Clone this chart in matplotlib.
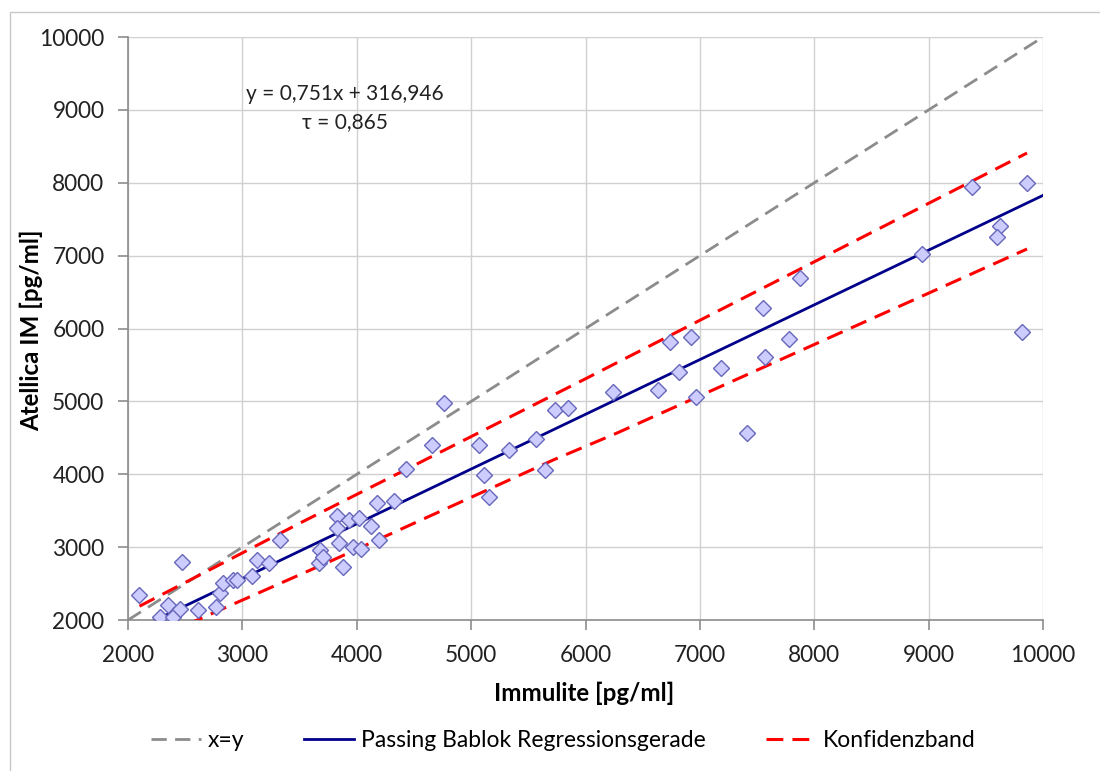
import matplotlib
matplotlib.use("Agg")
import matplotlib.pyplot as plt
from matplotlib.lines import Line2D
from matplotlib.patches import Rectangle

plt.rcParams['font.family'] = ['Lato', 'DejaVu Sans']

# data
immulite = [2096, 2280, 2350, 2393, 2455, 2472, 2612, 2769, 2804, 2831, 2918, 2953,
            3084, 3128, 3233, 3329, 3670, 3679, 3705, 3827, 3827, 3845, 3880, 3932,
            3967, 4020, 4037, 4125, 4177, 4195, 4326,
            4763, 6240, 5733, 5847, 4658, 5069, 4431, 5331, 5567, 5112, 5156, 5646,
            7875, 7552, 6739, 6922, 7779, 7569, 7185, 6817, 6634, 6966, 7412,
            9379, 9860, 9624, 9598, 8942, 9816]
atellica = [2343, 2041, 2206, 2041, 2151, 2796, 2137, 2178, 2370, 2508, 2549, 2549,
            2604, 2823, 2782, 3098, 2782, 2961, 2864, 3427, 3262, 3057, 2727, 3372,
            3002, 3400, 2974, 3290, 3605, 3098, 3633,
            4978, 5129, 4882, 4909, 4401, 4401, 4072, 4333, 4484, 3990, 3688, 4058,
            6693, 6281, 5815, 5883, 5856, 5609, 5458, 5403, 5156, 5060, 4566,
            7942, 7997, 7407, 7256, 7022, 5952]

slope = 0.751
intercept = 316.946
tau = "0,865"

identity_x = [2000, 10000]
reg_x = [2000, 10000]
upper_x = [2100, 3504, 5978, 9860]
upper_y = [2190, 3331, 5293, 8408]
lower_x = [2100, 3792, 5716, 6275, 9860]
lower_y = [1650, 2823, 4195, 4566, 7091]

x_ticks = [2000, 3000, 4000, 5000, 6000, 7000, 8000, 9000, 10000]
y_ticks = [2000, 3000, 4000, 5000, 6000, 7000, 8000, 9000, 10000]

fig = plt.figure(figsize=(11, 7.71), dpi=100)
ax = fig.add_axes([0.1164, 0.1958, 0.8318, 0.7562])

# chart frame
fig.patches.append(Rectangle((10 / 1100, -0.1), 1.2, 1 - 12 / 771 + 0.1,
                             transform=fig.transFigure, fill=False,
                             edgecolor='#c8c8c8', linewidth=1.0, zorder=0))

ax.set_xlim(2000, 10000)
ax.set_ylim(2000, 10000)
ax.set_xticks(x_ticks)
ax.set_yticks(y_ticks)
ax.grid(True, color='#d0d0d0', linewidth=1.0, zorder=0)
ax.set_axisbelow(True)
for s in ['top', 'right']:
    ax.spines[s].set_visible(False)
for s in ['left', 'bottom']:
    ax.spines[s].set_color('#8c8c8c')
    ax.spines[s].set_linewidth(1.2)
ax.tick_params(direction='out', length=7, width=1.2, color='#8c8c8c',
               labelsize=16.3, labelcolor='#222222')
ax.tick_params(axis='y', pad=10)
ax.tick_params(axis='x', pad=11)

ax.plot(identity_x, identity_x, color='#8c8c8c', linestyle=(0, (5.5, 3)),
        linewidth=2, zorder=2)
ax.plot(reg_x, [slope * v + intercept for v in reg_x], color='#00008b',
        linewidth=2, zorder=3)
ax.plot(upper_x, upper_y, color='#ff0000', linestyle=(0, (5.5, 3)),
        linewidth=2.2, zorder=3)
ax.plot(lower_x, lower_y, color='#ff0000', linestyle=(0, (5.5, 3)),
        linewidth=2.2, zorder=3)
ax.plot(immulite, atellica, linestyle='none', marker='D', markersize=8.4,
        markerfacecolor='#ccccff', markeredgecolor='#6666bb',
        markeredgewidth=1.0, zorder=4, clip_on=True)

ax.set_xlabel('Immulite [pg/ml]', fontsize=17.4, fontweight='bold')
ax.set_ylabel('Atellica IM [pg/ml]', fontsize=17.4, fontweight='bold')
ax.xaxis.set_label_coords((584 - 128) / 915, (620 - 682) / 583)
ax.yaxis.set_label_coords((43 - 128) / 915, (620 - 330) / 583)

ax.text(3897, 9218, 'y = 0,751x + 316,946', ha='center', va='center',
        fontsize=15, color='#222222')
ax.text(3897, 8833, '\u03c4 = ' + tau, ha='center', va='center',
        fontsize=15, color='#222222')

handles = [
    Line2D([], [], color='#8c8c8c', linestyle=(0, (5.5, 3)), linewidth=2),
    Line2D([], [], color='#00008b', linewidth=2),
    Line2D([], [], color='#ff0000', linestyle=(0, (5.5, 3)), linewidth=2.2),
]
labels = ['x=y', 'Passing Bablok Regressionsgerade', 'Konfidenzband']
fig.legend(handles, labels, loc='center', bbox_to_anchor=(0.512, 0.04), ncol=3,
           frameon=False, fontsize=16.5, handlelength=2.2, handletextpad=0.3,
           columnspacing=2.6)

fig.savefig('out.png', dpi=100)
